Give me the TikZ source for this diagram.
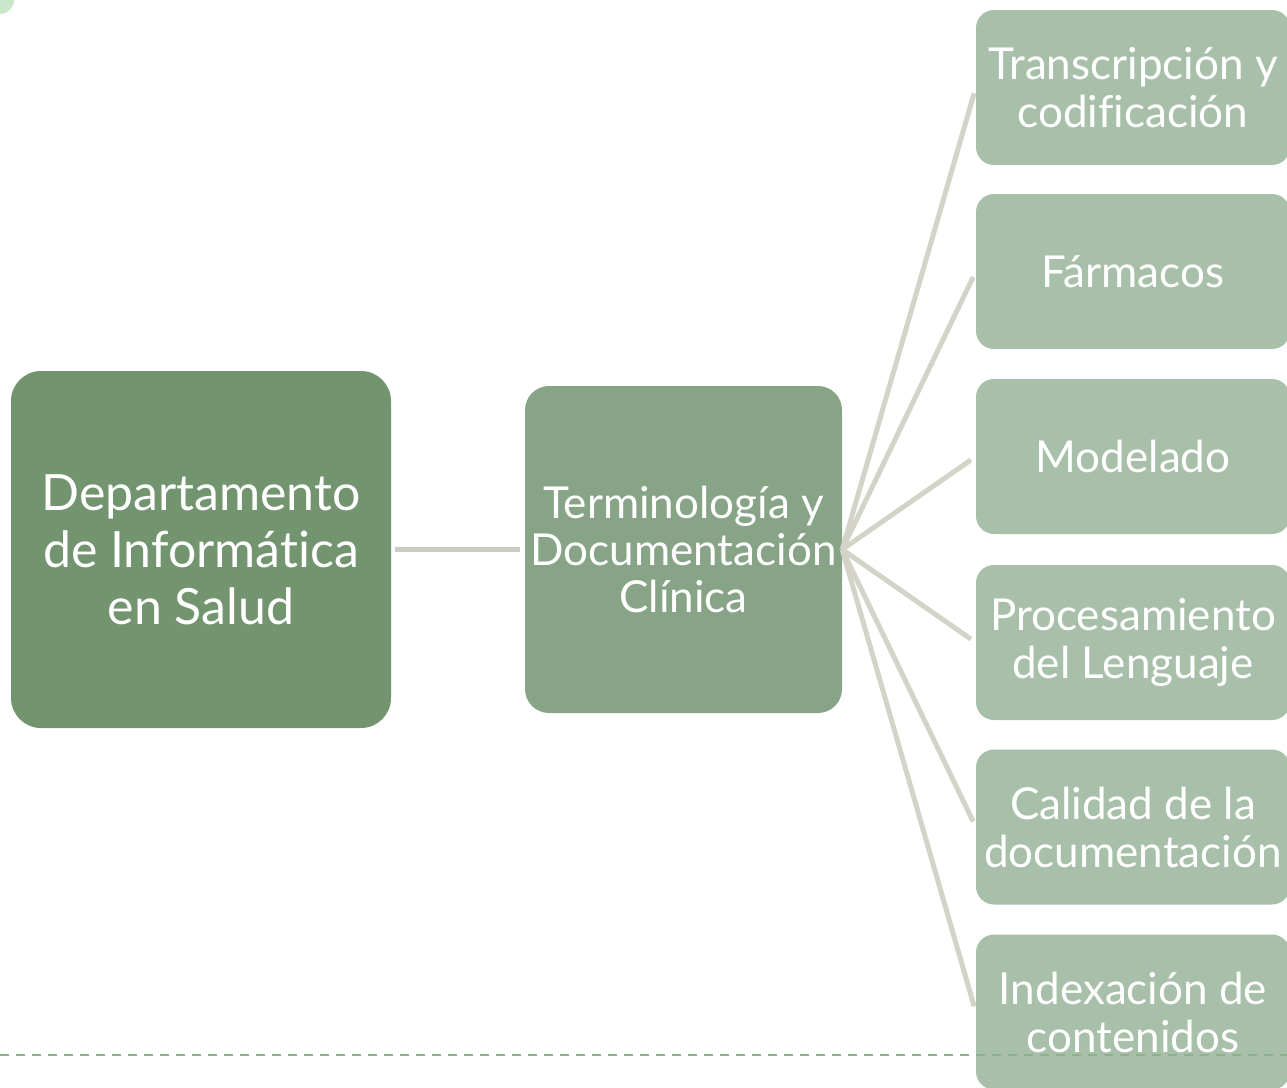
\documentclass[tikz,border=0pt]{standalone}
\usepackage{fontspec}
\setmainfont[Ligatures=NoCommon]{Lato}
\definecolor{rootgreen}{RGB}{114,148,111}
\definecolor{midgreen}{RGB}{135,164,135}
\definecolor{leafgreen}{RGB}{168,191,169}
\definecolor{linkgray}{RGB}{211,211,200}
\definecolor{dashgreen}{RGB}{141,176,141}
\begin{document}
\begin{tikzpicture}[x=1pt, y=-1pt,
        box/.style={rounded corners=18pt, text=white, align=center, inner sep=0pt},
        leaf/.style={box, fill=leafgreen, minimum width=314pt, minimum height=155pt, font=\fontsize{44}{48}\selectfont},
        link/.style={draw=linkgray, line width=5pt}]
            \useasboundingbox (0,0) rectangle (1287,1087);
            \fill[green!40!gray, opacity=0.3] (0,0) circle (14);
            \node[box, rounded corners=30pt, fill=rootgreen, minimum width=380pt, minimum height=357pt,
                font=\fontsize{50}{57}\selectfont] (dept) at (201,549.5) {Departamento\\de Informática\\en Salud};
            \node[box, rounded corners=24pt, fill=midgreen, minimum width=317pt, minimum height=327pt,
                font=\fontsize{44}{47}\selectfont] (term) at (683.5,549.5) {Terminología y\\Documentación\\Clínica};
            \node[leaf] (trans) at (1133,87.5) {Transcripción y\\codificación};
            \node[leaf] (farm) at (1133,271.5) {Fármacos};
            \node[leaf] (model) at (1133,456.5) {Modelado};
            \node[leaf] (proc) at (1133,642.5) {Procesamiento\\del Lenguaje};
            \node[leaf] (cal) at (1133,827) {Calidad de la\\documentación};
            \node[leaf] (index) at (1133,1012) {Indexación de\\contenidos};
            \draw[link, draw=linkgray!90!gray, shorten <=4pt, shorten >=5pt] (dept) -- (term);
            \foreach \leafname in {trans,farm,model,proc,cal,index}
                \draw[link, shorten >=6pt] (term.east) -- (\leafname.west);
            \draw[dashgreen, dashed, dash pattern=on 9pt off 7pt, line width=2pt] (0,1055) -- (1287,1055);
        \end{tikzpicture}
\end{document}
